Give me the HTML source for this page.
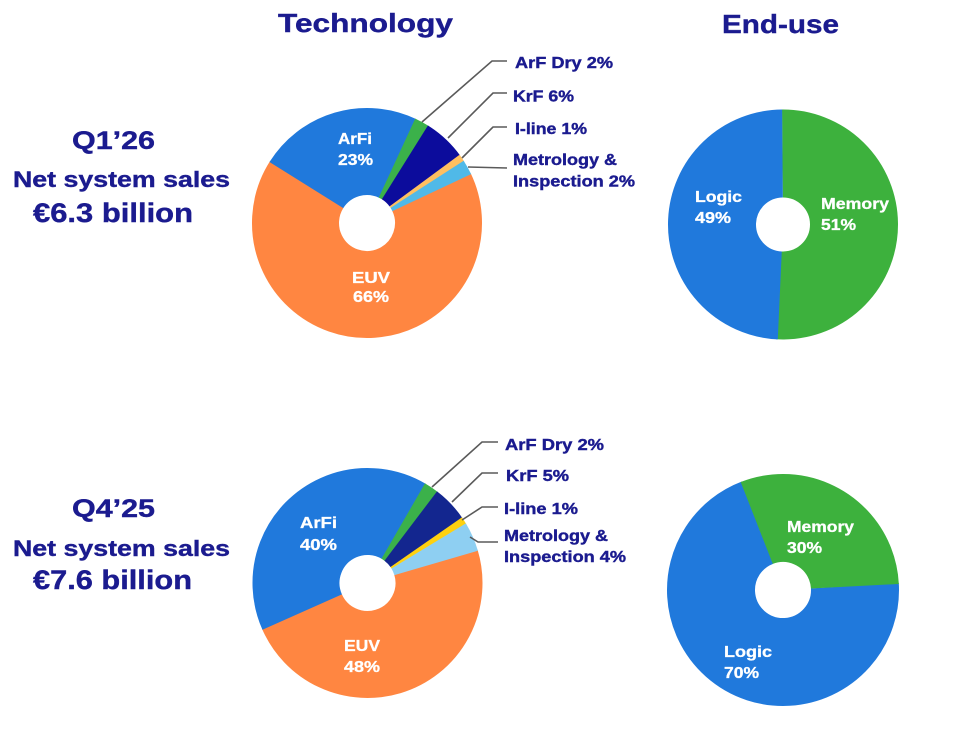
<!DOCTYPE html>
<html>
<head>
<meta charset="utf-8">
<style>
html,body{margin:0;padding:0;background:#fff;}
svg{display:block;}
text{font-family:"Liberation Sans",Arial,sans-serif;font-weight:bold;}
.n{fill:#1b1b8f;stroke:#1b1b8f;stroke-width:0.4;}
.w{fill:#ffffff;stroke:#ffffff;stroke-width:0.3;font-size:15.5px;}
.lb{font-size:15.5px;}
.ld{fill:none;stroke:#5a5a5a;stroke-width:1.6;}
</style>
</head>
<body>
<svg width="960" height="754" viewBox="0 0 960 754" xmlns="http://www.w3.org/2000/svg">
<rect width="960" height="754" fill="#fff"/>

<!-- Titles -->
<text class="n" x="278" y="32" font-size="26" textLength="175" lengthAdjust="spacingAndGlyphs">Technology</text>
<text class="n" x="722" y="33" font-size="26" textLength="117" lengthAdjust="spacingAndGlyphs">End-use</text>

<!-- Left labels -->
<text class="n" x="72" y="149" font-size="25" textLength="83" lengthAdjust="spacingAndGlyphs">Q1’26</text>
<text class="n" x="13" y="187" font-size="22" textLength="217" lengthAdjust="spacingAndGlyphs">Net system sales</text>
<text class="n" x="33" y="222" font-size="27" textLength="160" lengthAdjust="spacingAndGlyphs">€6.3 billion</text>

<text class="n" x="72" y="517" font-size="25" textLength="83" lengthAdjust="spacingAndGlyphs">Q4’25</text>
<text class="n" x="13" y="556" font-size="22" textLength="217" lengthAdjust="spacingAndGlyphs">Net system sales</text>
<text class="n" x="33" y="589" font-size="27" textLength="159" lengthAdjust="spacingAndGlyphs">€7.6 billion</text>

<!-- Top technology donut -->
<g fill="none" stroke-width="87">
  <circle cx="367" cy="223" r="71.5" stroke="#ff8641" stroke-dasharray="297.2 1000" transform="rotate(-25.6 367 223)"/>
  <circle cx="367" cy="223" r="71.5" stroke="#2079dc" stroke-dasharray="104 1000" transform="rotate(-148 367 223)"/>
  <circle cx="367" cy="223" r="71.5" stroke="#3bb14a" stroke-dasharray="9.6 1000" transform="rotate(-65.2 367 223)"/>
  <circle cx="367" cy="223" r="71.5" stroke="#0c0c9c" stroke-dasharray="27.6 1000" transform="rotate(-58 367 223)"/>
  <circle cx="367" cy="223" r="71.5" stroke="#ffbf60" stroke-dasharray="5.1 1000" transform="rotate(-36.4 367 223)"/>
  <circle cx="367" cy="223" r="71.5" stroke="#50b9e8" stroke-dasharray="9.6 1000" transform="rotate(-32.8 367 223)"/>
</g>
<text class="w" x="338" y="144" textLength="34" lengthAdjust="spacingAndGlyphs">ArFi</text>
<text class="w" x="338" y="165" textLength="35" lengthAdjust="spacingAndGlyphs">23%</text>
<text class="w" x="352" y="283" textLength="38" lengthAdjust="spacingAndGlyphs">EUV</text>
<text class="w" x="353" y="302" textLength="36" lengthAdjust="spacingAndGlyphs">66%</text>

<!-- Top leaders -->
<polyline class="ld" points="422,122 492,61 507,61"/>
<polyline class="ld" points="448,138 493,93 507,93"/>
<polyline class="ld" points="462,158 493,127 507,127"/>
<polyline class="ld" points="468,167 507,168"/>
<text class="n lb" x="515" y="68" textLength="98" lengthAdjust="spacingAndGlyphs">ArF Dry 2%</text>
<text class="n lb" x="513" y="101.5" textLength="61" lengthAdjust="spacingAndGlyphs">KrF 6%</text>
<text class="n lb" x="515" y="134" textLength="72" lengthAdjust="spacingAndGlyphs">I-line 1%</text>
<text class="n lb" x="513" y="165" textLength="104" lengthAdjust="spacingAndGlyphs">Metrology &amp;</text>
<text class="n lb" x="513" y="186.5" textLength="122" lengthAdjust="spacingAndGlyphs">Inspection 2%</text>

<!-- Bottom technology donut -->
<g fill="none" stroke-width="87">
  <circle cx="367.5" cy="583" r="71.5" stroke="#ff8641" stroke-dasharray="216.3 1000" transform="rotate(-16.8 367.5 583)"/>
  <circle cx="367.5" cy="583" r="71.5" stroke="#2079dc" stroke-dasharray="180.4 1000" transform="rotate(156 367.5 583)"/>
  <circle cx="367.5" cy="583" r="71.5" stroke="#3bb14a" stroke-dasharray="9.6 1000" transform="rotate(-60 367.5 583)"/>
  <circle cx="367.5" cy="583" r="71.5" stroke="#13268f" stroke-dasharray="23.1 1000" transform="rotate(-52.8 367.5 583)"/>
  <circle cx="367.5" cy="583" r="71.5" stroke="#ffd10f" stroke-dasharray="5.1 1000" transform="rotate(-34.8 367.5 583)"/>
  <circle cx="367.5" cy="583" r="71.5" stroke="#8ecff2" stroke-dasharray="18.6 1000" transform="rotate(-31.2 367.5 583)"/>
</g>
<text class="w" x="300" y="528" textLength="37" lengthAdjust="spacingAndGlyphs">ArFi</text>
<text class="w" x="300" y="550" textLength="37" lengthAdjust="spacingAndGlyphs">40%</text>
<text class="w" x="344" y="651" textLength="36" lengthAdjust="spacingAndGlyphs">EUV</text>
<text class="w" x="344" y="672" textLength="36" lengthAdjust="spacingAndGlyphs">48%</text>

<!-- Bottom leaders -->
<polyline class="ld" points="432,487 482,442 498,442"/>
<polyline class="ld" points="452,502 482,473 498,473"/>
<polyline class="ld" points="462,520 482,507 498,507"/>
<polyline class="ld" points="470,537 478,542 498,542"/>
<text class="n lb" x="505" y="450" textLength="99" lengthAdjust="spacingAndGlyphs">ArF Dry 2%</text>
<text class="n lb" x="506" y="481" textLength="63" lengthAdjust="spacingAndGlyphs">KrF 5%</text>
<text class="n lb" x="504" y="514" textLength="74" lengthAdjust="spacingAndGlyphs">I-line 1%</text>
<text class="n lb" x="504" y="541" textLength="104" lengthAdjust="spacingAndGlyphs">Metrology &amp;</text>
<text class="n lb" x="504" y="562" textLength="122" lengthAdjust="spacingAndGlyphs">Inspection 4%</text>

<!-- Top end-use donut -->
<g fill="none" stroke-width="88">
  <circle cx="783" cy="224.5" r="71" stroke="#3db13d" stroke-dasharray="228 1000" transform="rotate(-90.5 783 224.5)"/>
  <circle cx="783" cy="224.5" r="71" stroke="#2079dc" stroke-dasharray="219.2 1000" transform="rotate(92.6 783 224.5)"/>
</g>
<text class="w" x="695" y="202" textLength="47" lengthAdjust="spacingAndGlyphs">Logic</text>
<text class="w" x="695" y="223" textLength="36" lengthAdjust="spacingAndGlyphs">49%</text>
<text class="w" x="821" y="209" textLength="68" lengthAdjust="spacingAndGlyphs">Memory</text>
<text class="w" x="821" y="230" textLength="35" lengthAdjust="spacingAndGlyphs">51%</text>

<!-- Bottom end-use donut -->
<g fill="none" stroke-width="88">
  <circle cx="783" cy="590" r="72" stroke="#2079dc" stroke-dasharray="317.3 1000" transform="rotate(-3.4 783 590)"/>
  <circle cx="783" cy="590" r="72" stroke="#3db13d" stroke-dasharray="136.2 1000" transform="rotate(-111.4 783 590)"/>
</g>
<text class="w" x="787" y="532" textLength="67" lengthAdjust="spacingAndGlyphs">Memory</text>
<text class="w" x="787" y="553" textLength="35" lengthAdjust="spacingAndGlyphs">30%</text>
<text class="w" x="724" y="657" textLength="48" lengthAdjust="spacingAndGlyphs">Logic</text>
<text class="w" x="724" y="678" textLength="35" lengthAdjust="spacingAndGlyphs">70%</text>
</svg>
</body>
</html>
